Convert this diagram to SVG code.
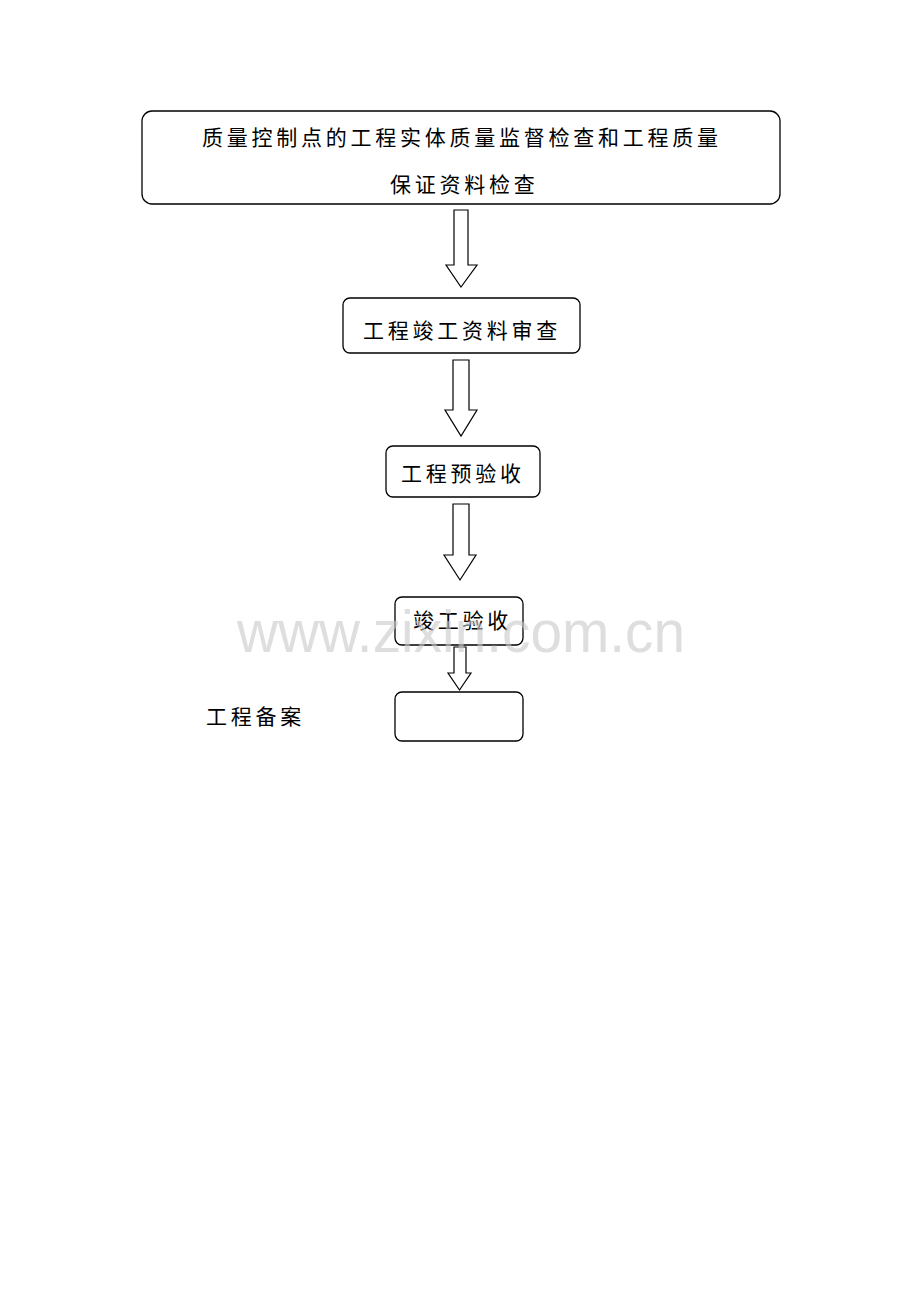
<svg xmlns="http://www.w3.org/2000/svg" width="920" height="1302" viewBox="0 0 920 1302">
<style>
.box{fill:none;stroke:#000;stroke-width:1.3}
.arr{fill:#fff;stroke:#000;stroke-width:1.2;stroke-linejoin:miter}
.t{font-family:"Noto Sans CJK SC","Noto Sans CJK JP",sans-serif;font-size:21px;fill:#000;letter-spacing:3.75px}
.wm{font-family:"Liberation Sans",Arial,sans-serif;font-size:60px;fill:#c8c8c8;fill-opacity:0.6}
</style>
<rect width="920" height="1302" fill="#fff"/>
<g id="connectors">
<path class="arr" d="M454,210 H468 V265 H477 L461,287 L446,265 H454 Z"/>
<path class="arr" d="M453,360 H469 V410 H477 L461,436 L445,410 H453 Z"/>
<path class="arr" d="M453,504 H469 V555 H476 L460,580 L444,555 H453 Z"/>
<path class="arr" d="M454,647 H466 V673 H471 L459.5,690 L448,673 H454 Z"/>
</g>
<g id="n1">
<rect class="box" x="142" y="111" width="638" height="93" rx="10"/>
<text class="t" x="202" y="145">质量控制点的工程实体质量监督检查和工程质量</text>
<text class="t" x="390" y="192">保证资料检查</text>
</g>
<g id="n2">
<rect class="box" x="343" y="298" width="237" height="55" rx="7"/>
<text class="t" x="363" y="338">工程竣工资料审查</text>
</g>
<g id="n3">
<rect class="box" x="386" y="446" width="154" height="51" rx="7"/>
<text class="t" x="401" y="481">工程预验收</text>
</g>
<g id="n4">
<rect class="box" x="395" y="597" width="128" height="48" rx="7"/>
<text class="t" x="413" y="628">竣工验收</text>
</g>
<g id="n5">
<rect class="box" x="395" y="692" width="128" height="49" rx="7"/>
</g>
<g id="label">
<text class="t" x="206" y="724">工程备案</text>
</g>
<text class="wm" x="237" y="652" textLength="448" lengthAdjust="spacingAndGlyphs">www.zixin.com.cn</text>
</svg>
